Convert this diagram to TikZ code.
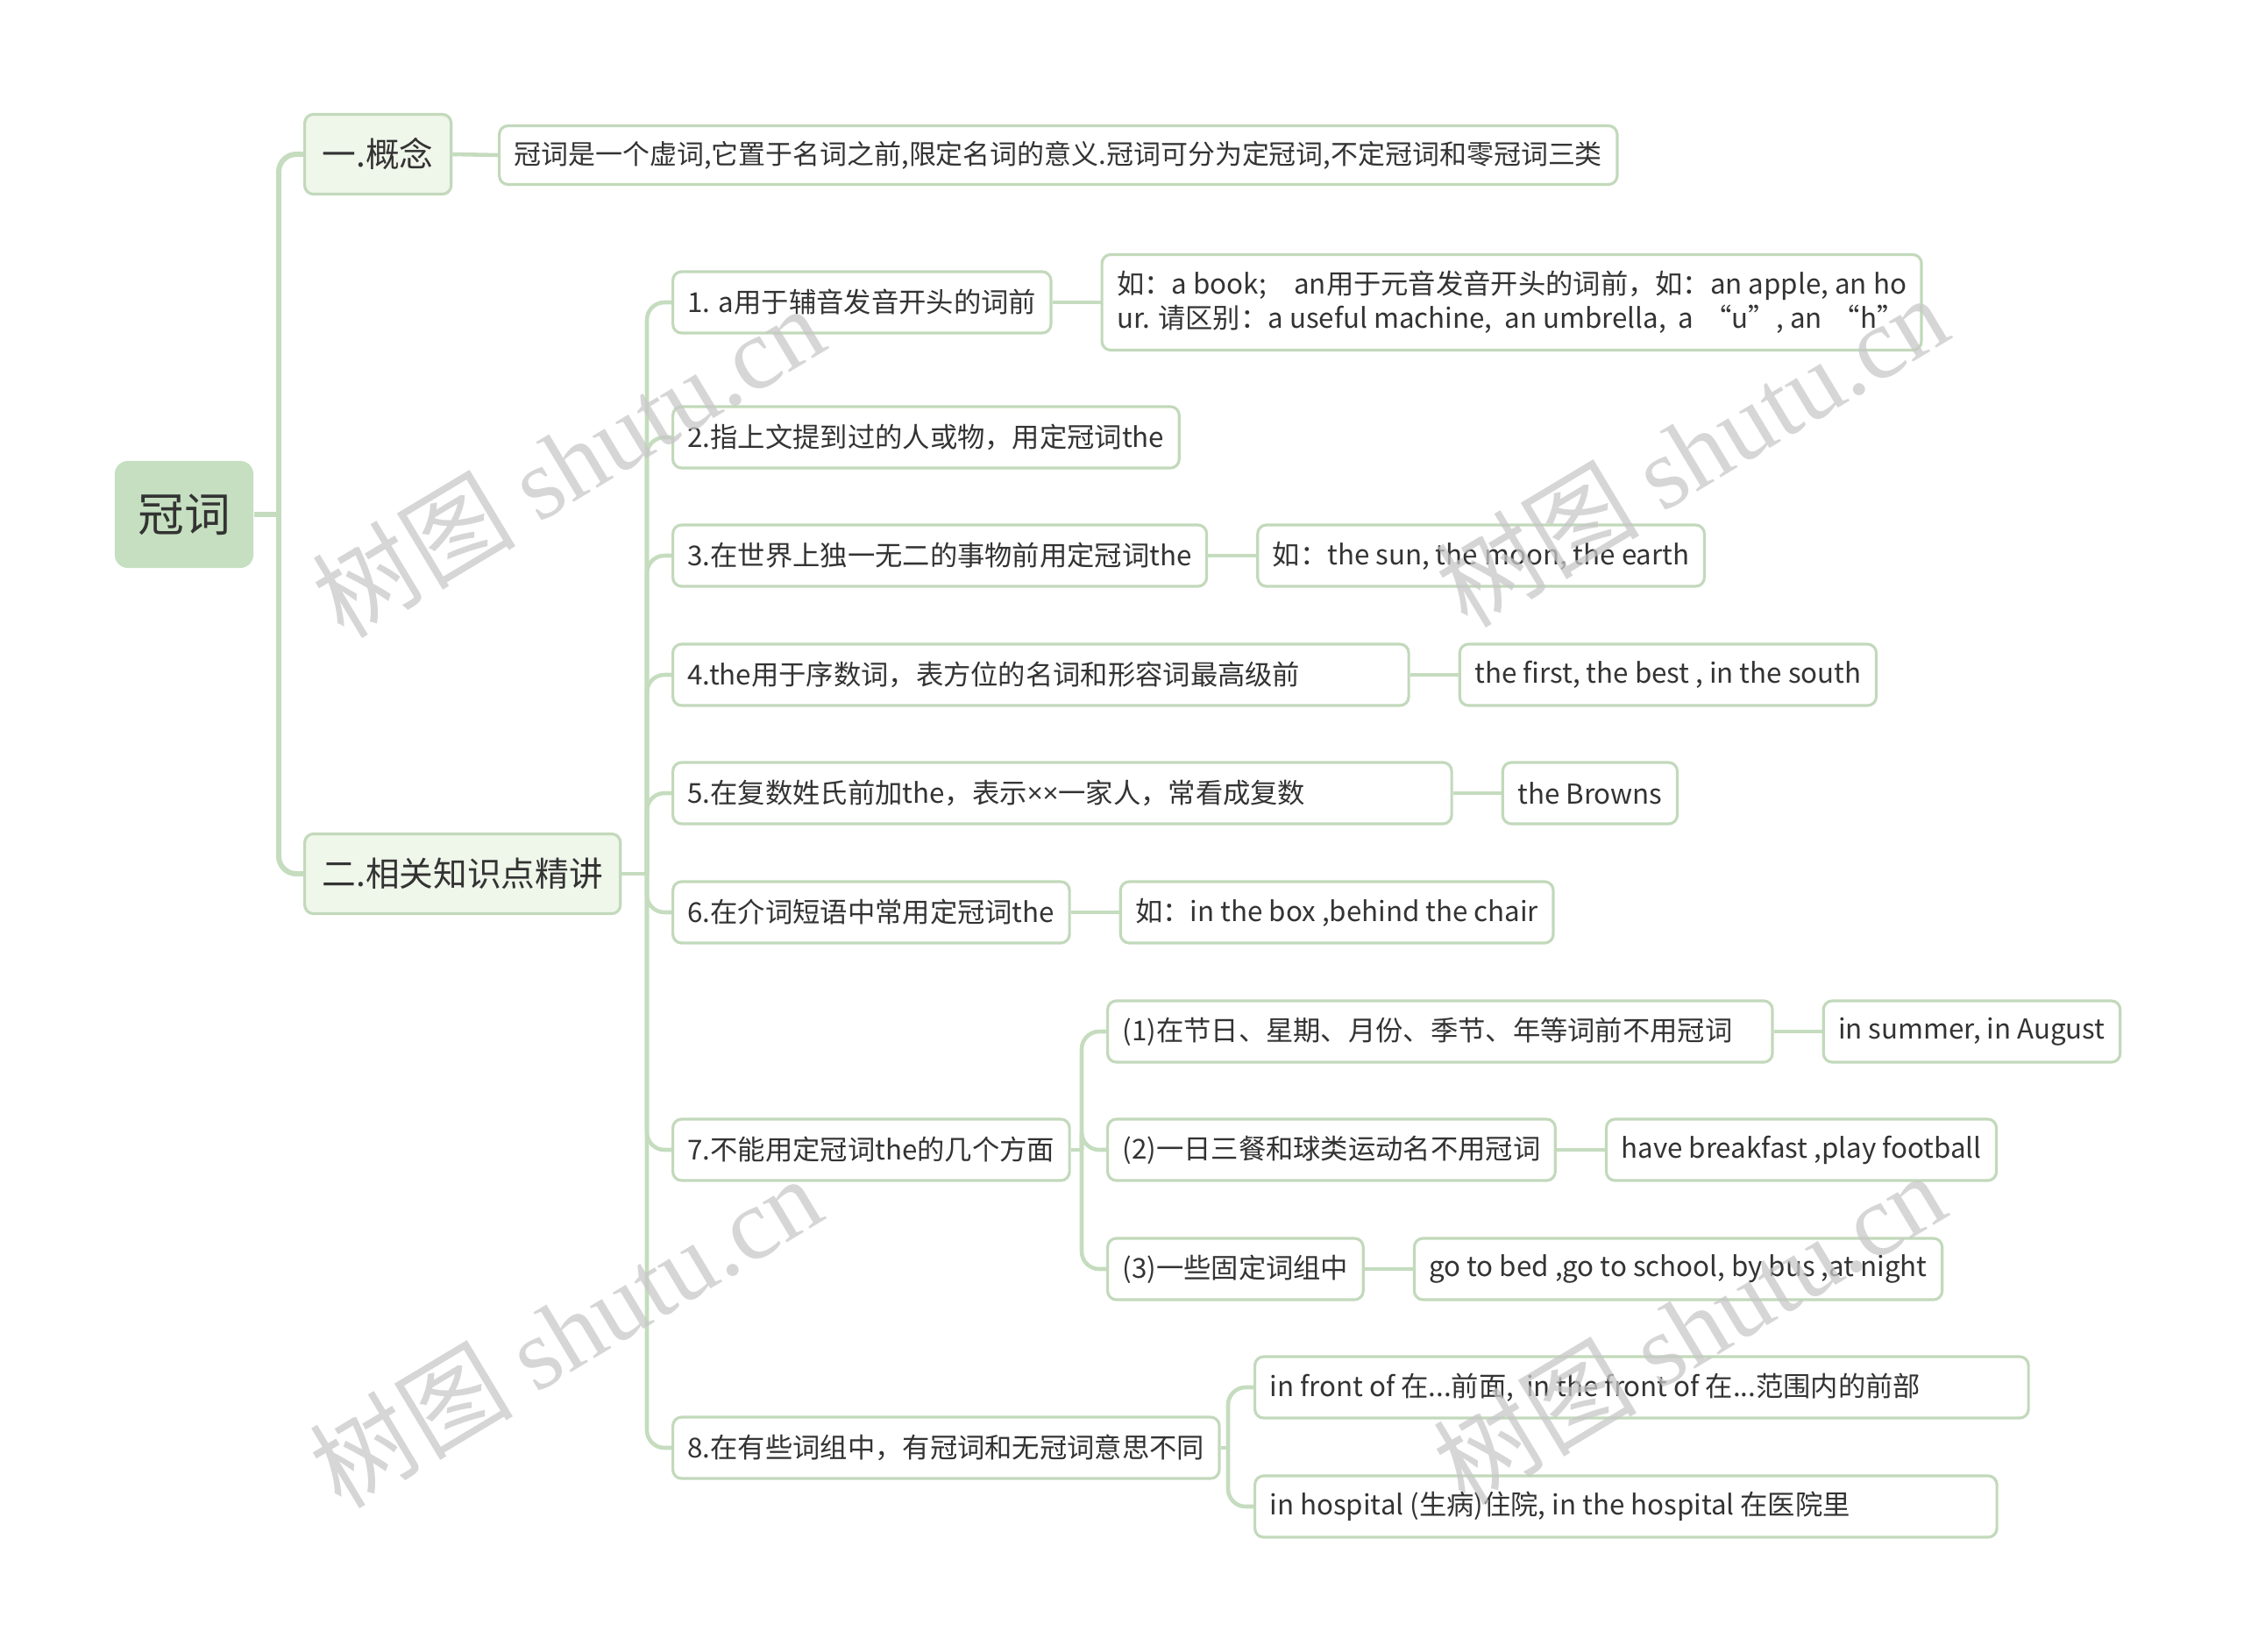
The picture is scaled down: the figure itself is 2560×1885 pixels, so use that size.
\documentclass[tikz,border=0pt]{standalone}
\usepackage{fontspec}
\setmainfont{Noto Sans CJK SC}
\newfontfamily\wmfont{Liberation Serif}
\newfontfamily\latinfont{Open Sans}
\usetikzlibrary{positioning}

\definecolor{rootfill}{HTML}{C5DFC0}
\definecolor{topicfill}{HTML}{EFF6EA}
\definecolor{boxline}{HTML}{C2D9BB}
\definecolor{linkc}{HTML}{C5DCBF}
\definecolor{txtc}{HTML}{333333}
\definecolor{wmc}{HTML}{C8C8C8}

\begin{document}
\begin{tikzpicture}[x=0.01cm,y=-0.01cm,
    box/.style={draw=boxline,line width=0.9pt,rounded corners=0.1cm,fill=white,text=txtc,
      anchor=west,minimum height=0.7cm,inner xsep=0.17cm,font=\fontsize{8.9}{11}\selectfont},
    wide/.style={text width=#1,align=flush left},
    topic/.style={box,fill=topicfill,minimum height=0.91cm,inner xsep=0.2cm,font=\fontsize{11}{13}\selectfont},
    link/.style={draw=linkc,line width=1.3pt,rounded corners=0.2cm},
    trunk/.style={link,line width=1.7pt},
    wm/.style={text=wmc,opacity=0.75,rotate=31,font=\fontsize{33}{36}\selectfont}]
  \useasboundingbox (0,0) rectangle (2560,1885);

  % root and topics
  \node[fill=rootfill,rounded corners=0.15cm,text=txtc,minimum width=1.58cm,minimum height=1.22cm,
    font=\fontsize{15}{18}\selectfont] (root) at (210,587) {冠词};
  \node[topic,minimum width=1.67cm] (gn) at (346,176) {一.概念};
  \node[topic] (zj) at (346,997) {二.相关知识点精讲};
  \node[box,font=\fontsize{8.8}{11}\selectfont,minimum height=0.67cm] (def) at (568,177)
    {冠词是一个虚词,它置于名词之前,限定名词的意义.冠词可分为定冠词,不定冠词和零冠词三类};

  % items under topic two
  \node[box] (i1) at (766,345) {1. a用于辅音发音开头的词前};
  \node[box] (i2) at (766,499) {2.指上文提到过的人或物，用定冠词the};
  \node[box] (i3) at (766,634) {3.在世界上独一无二的事物前用定冠词the};
  \node[box,wide=8.05cm] (i4) at (766,770) {4.the用于序数词，表方位的名词和形容词最高级前};
  \node[box,wide=8.54cm] (i5) at (766,905) {5.在复数姓氏前加the，表示{\latinfont ××}一家人，常看成复数};
  \node[box] (i6) at (766,1041) {6.在介词短语中常用定冠词the};
  \node[box] (i7) at (766,1312) {7.不能用定冠词the的几个方面};
  \node[box] (i8) at (766,1652) {8.在有些词组中，有冠词和无冠词意思不同};

  % details
  \node[box,align=left,minimum height=1.09cm,right=0.55cm of i1] (d1)
    {如：a book;\quad an用于元音发音开头的词前，如：an apple, an ho\\
     ur. 请区别：a useful machine,\ \ an umbrella,\ \ a \,“u”, an \,“h”};
  \node[box,right=0.55cm of i3] (d3) {如：the sun, the moon, the earth};
  \node[box,right=0.55cm of i4] (d4) {the first, the best , in the south};
  \node[box,right=0.55cm of i5] (d5) {the Browns};
  \node[box,right=0.55cm of i6] (d6) {如：in the box ,behind the chair};

  \node[box,wide=7.24cm] (s1) at (1262,1177) {(1)在节日、星期、月份、季节、年等词前不用冠词};
  \node[box] (s2) at (1262,1312) {(2)一日三餐和球类运动名不用冠词};
  \node[box] (s3) at (1262,1448) {(3)一些固定词组中};
  \node[box,right=0.55cm of s1] (e1) {in summer, in August};
  \node[box,right=0.55cm of s2] (e2) {have breakfast ,play football};
  \node[box,right=0.55cm of s3] (e3) {go to bed ,go to school, by bus ,at night};

  \node[box,wide=8.48cm] (h1) at (1430,1583) {in front of 在...前面,\ \ in the front of 在...范围内的前部};
  \node[box,wide=8.12cm] (h2) at (1430,1719) {in hospital (生病)住院, in the hospital 在医院里};

  % connectors
  \coordinate (t0) at (318,587);
  \coordinate (t1) at (738,997);
  \coordinate (t7) at (1234,1312);
  \coordinate (t8) at (1401,1652);
  \draw[trunk] (root.east) -- (t0);
  \draw[trunk] (t0) |- (gn.west);
  \draw[trunk] (t0) |- (zj.west);
  \draw[link] (gn.east) -- (def.west);
  \draw[link] (zj.east) -- (t1);
  \foreach \n in {i1,i2,i3,i4,i5,i6,i7,i8}
    \draw[link] (t1) |- (\n.west);
  \foreach \a/\b in {i1/d1,i3/d3,i4/d4,i5/d5,i6/d6,s1/e1,s2/e2,s3/e3}
    \draw[link] (\a.east) -- (\b.west);
  \draw[link] (i7.east) -- (t7);
  \foreach \n in {s1,s2,s3}
    \draw[link] (t7) |- (\n.west);
  \draw[link] (i8.east) -- (t8);
  \foreach \n in {h1,h2}
    \draw[link] (t8) |- (\n.west);

  % watermarks
  \node[wm] (wm1) at (648,526) {树图 {\wmfont shutu.cn}};
  \node[wm] (wm2) at (1930,514) {树图 {\wmfont shutu.cn}};
  \node[wm] (wm3) at (645,1519) {树图 {\wmfont shutu.cn}};
  \node[wm] (wm4) at (1927,1515) {树图 {\wmfont shutu.cn}};
\end{tikzpicture}
\end{document}
